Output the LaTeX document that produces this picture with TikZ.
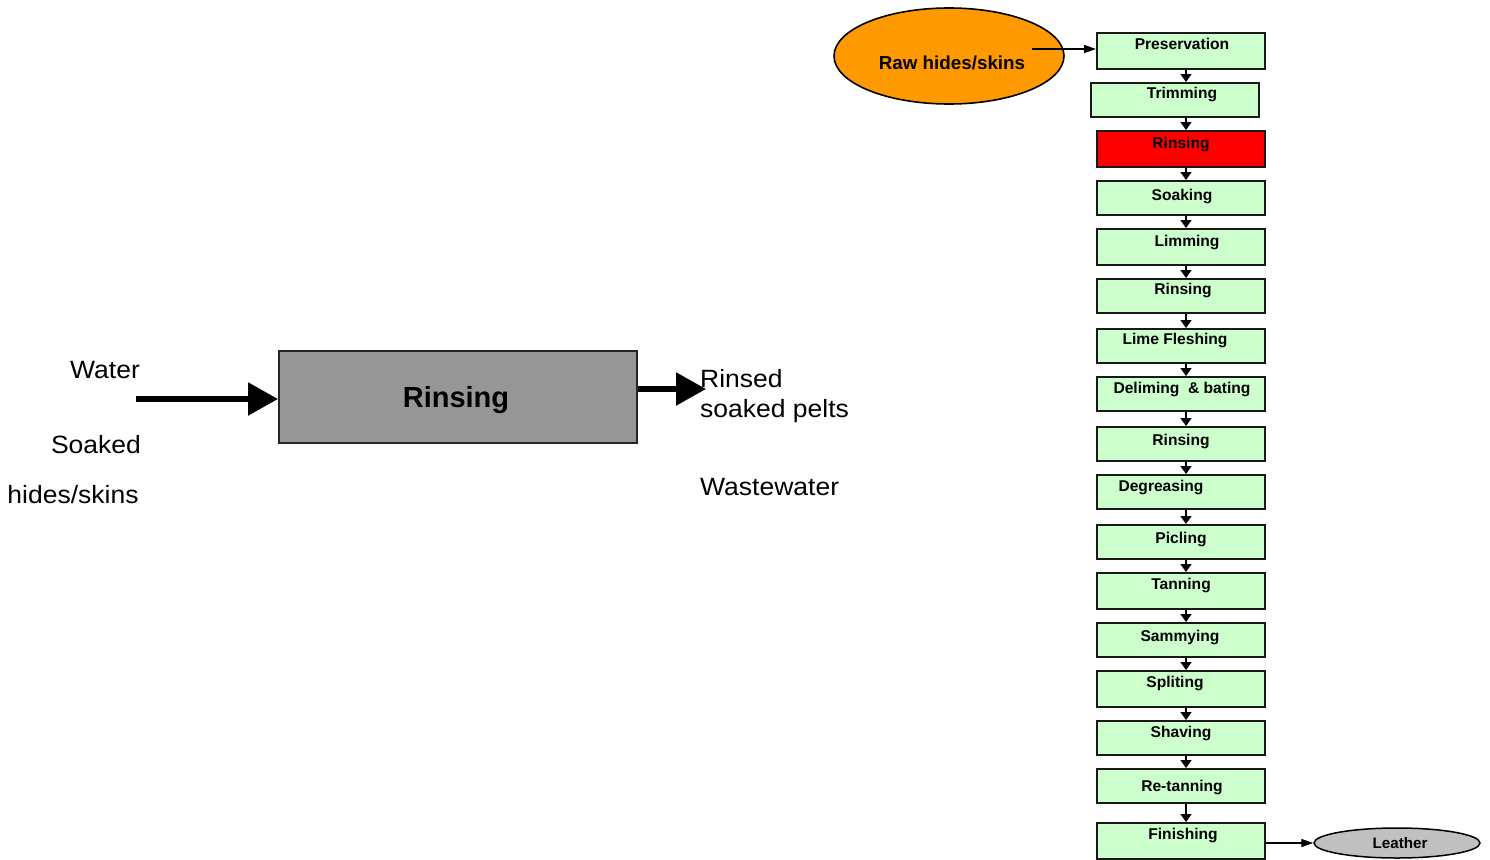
\documentclass[tikz,border=0pt]{standalone}
\usepackage{fontspec}
\setmainfont{Liberation Sans}
\newfontfamily\widesans[FakeStretch=1.06]{Liberation Sans}
\usetikzlibrary{arrows.meta,shapes.geometric}
\definecolor{stepgreen}{HTML}{CCFFCC}
\definecolor{stepred}{HTML}{FF0000}
\definecolor{rawfill}{HTML}{FF9900}
\definecolor{procgray}{HTML}{969696}
\definecolor{leathergray}{HTML}{C0C0C0}
% one process step: name, left, top, height, fill, label x, label baseline, label
\newcommand\procstep[8]{%
  \node[stepbox, fill=#5, minimum height=#4pt] (#1) at (#2,#3) {};
  \node[steplabel] (#1t) at (#6,#7) {#8};}
\begin{document}
\begin{tikzpicture}[x=1pt,y=-1pt,
  stepbox/.style={draw=black!90, line width=1.8pt, anchor=north west,
    inner sep=0pt, minimum width=168pt},
  steplabel/.style={anchor=base, inner sep=0pt,
    font=\fontsize{15.6}{18}\bfseries\selectfont},
  chainarrow/.style={line width=1.5pt, -{Triangle[length=8pt,width=11pt]}},
  thinarrow/.style={line width=1.4pt, -{Triangle[length=12pt,width=8pt]}},
  bigarrow/.style={line width=5.5pt, -{Triangle[length=30pt,width=32pt]}},
  plaintext/.style={inner sep=0pt, font=\widesans\fontsize{25}{30}\selectfont}]
\useasboundingbox (0,0) rectangle (1490,859);

% ---- single-step view: rinsing ----
\node[draw=black!85, line width=1.6pt, fill=procgray, anchor=north west,
  inner sep=0pt, minimum width=358pt, minimum height=92pt] (rbox) at (278,350) {};
\node[anchor=base, inner sep=0pt, font=\fontsize{29}{34}\bfseries\selectfont]
  (rboxt) at (456,407.5) {Rinsing};

\coordinate (win) at (136,399);
\coordinate (wout) at (706,389);
\draw[bigarrow] (win) -- (rbox.west |- win);
\draw[bigarrow] (rbox.east |- wout) -- (wout);

\node[plaintext, anchor=base] (water) at (105,378) {Water};
\node[plaintext, anchor=base] (soaked) at (96,453) {Soaked};
\node[plaintext, anchor=base] (hides) at (73,503) {hides/skins};
\node[plaintext, anchor=base west] (rinsed) at (700,387) {Rinsed};
\node[plaintext, anchor=base west] (pelts) at (700,417) {soaked pelts};
\node[plaintext, anchor=base west] (waste) at (700,495) {Wastewater};

% ---- whole tannery process chain ----
\node[draw=black, line width=1.6pt, fill=rawfill, ellipse, inner sep=0pt,
  minimum width=230pt, minimum height=96pt] (raw) at (949,56) {};
\node[anchor=base, inner sep=0pt, font=\fontsize{18.8}{22}\bfseries\selectfont]
  (rawt) at (952,70) {Raw hides/skins};

\procstep{s1}{1096}{32}{36}{stepgreen}{1182}{50}{Preservation}
\procstep{s2}{1090}{82}{34}{stepgreen}{1182}{98}{Trimming}
\procstep{s3}{1096}{130}{36}{stepred}{1181}{148}{Rinsing}
\procstep{s4}{1096}{180}{34}{stepgreen}{1182}{200}{Soaking}
\procstep{s5}{1096}{228}{36}{stepgreen}{1187}{246}{Limming}
\procstep{s6}{1096}{278}{34}{stepgreen}{1183}{294}{Rinsing}
\procstep{s7}{1096}{328}{34}{stepgreen}{1175}{344}{Lime Fleshing}
\procstep{s8}{1096}{376}{34}{stepgreen}{1182}{393}{Deliming\ \ \& bating}
\procstep{s9}{1096}{426}{34}{stepgreen}{1181}{445}{Rinsing}
\procstep{s10}{1096}{474}{34}{stepgreen}{1161}{491}{Degreasing}
\procstep{s11}{1096}{524}{34}{stepgreen}{1181}{543}{Picling}
\procstep{s12}{1096}{572}{36}{stepgreen}{1181}{589}{Tanning}
\procstep{s13}{1096}{622}{34}{stepgreen}{1180}{641}{Sammying}
\procstep{s14}{1096}{670}{36}{stepgreen}{1175}{687}{Spliting}
\procstep{s15}{1096}{720}{34}{stepgreen}{1181}{737}{Shaving}
\procstep{s16}{1096}{768}{34}{stepgreen}{1182}{791}{Re-tanning}
\procstep{s17}{1096}{822}{36}{stepgreen}{1183}{839}{Finishing}

\node[draw=black, line width=1.5pt, fill=leathergray, ellipse, inner sep=0pt,
  minimum width=166pt, minimum height=30pt] (leather) at (1397,843) {};
\node[anchor=base, inner sep=0pt, font=\fontsize{15.2}{18}\bfseries\selectfont]
  (leathert) at (1400,848.5) {Leather};

\coordinate (ax) at (1186,0);
\foreach \a/\b in {s1/s2,s2/s3,s3/s4,s4/s5,s5/s6,s6/s7,s7/s8,s8/s9,s9/s10,
    s10/s11,s11/s12,s12/s13,s13/s14,s14/s15,s15/s16,s16/s17}
  \draw[chainarrow] (\a.south -| ax) -- (\b.north -| ax);

\coordinate (rawstart) at (1032,49);
\draw[thinarrow] (rawstart) -- (s1.west |- rawstart);
\draw[thinarrow] (s17.east |- leather) -- (leather.west);
\end{tikzpicture}
\end{document}
